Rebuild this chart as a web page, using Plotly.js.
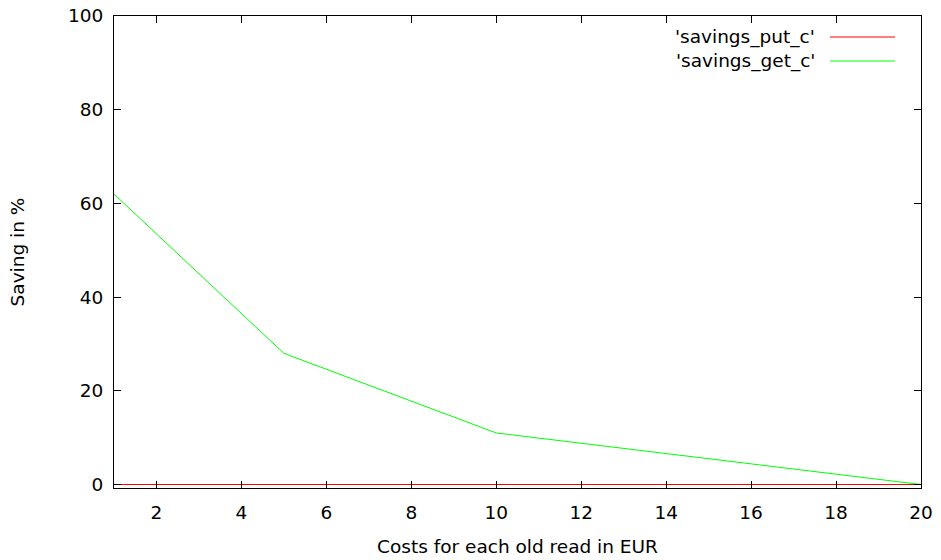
<!DOCTYPE html>
<html><head><meta charset="utf-8">
<script src="https://cdn.plot.ly/plotly-3.0.1.min.js"></script>
<style>html,body{margin:0;padding:0;background:#fff}</style>
</head><body><div id="chart" style="width:941px;height:560px"></div>
<script>
const costs = [1, 5, 10, 20];
const savingsPut = [0, 0, 0, 0];
const savingsGet = [62, 28, 11, 0];
const seriesNames = ["'savings_put_c'", "'savings_get_c'"];
const xTicks = [2, 4, 6, 8, 10, 12, 14, 16, 18, 20];
const yTicks = [0, 20, 40, 60, 80, 100];

const W = 941, H = 560, L = 114, R = 20, T = 16, B = 72;
const font = {family: 'DejaVu Sans', size: 18.5, color: '#000'};
const colors = ['#ff0000', '#00ff00'];

const traces = [
  {x: costs, y: savingsPut, mode: 'lines', line: {color: colors[0], width: 1}, name: seriesNames[0], showlegend: false},
  {x: costs, y: savingsGet, mode: 'lines', line: {color: colors[1], width: 1}, name: seriesNames[1], showlegend: false}
];

const axisCommon = {
  showgrid: false, zeroline: false, showline: true, linecolor: '#000', linewidth: 1,
  mirror: 'allticks', ticks: 'inside', ticklen: 7, tickcolor: '#000', tickwidth: 1,
  tickfont: font
};

const pw = W - L - R, ph = H - T - B;
const annotations = [];
const shapes = [];
seriesNames.forEach((n, i) => {
  const yp = 1 - (21 + 24 * i) / ph;
  annotations.push({xref: 'paper', yref: 'paper', x: (817 - L) / pw, y: yp, text: n, showarrow: false,
    xanchor: 'right', yanchor: 'middle', font: font});
  shapes.push({type: 'line', xref: 'paper', yref: 'paper', x0: (830 - L) / pw, x1: (895 - L) / pw, y0: yp, y1: yp,
    line: {color: colors[i], width: 1}});
});

const layout = {
  width: W, height: H,
  margin: {l: L, r: R, t: T, b: B},
  paper_bgcolor: '#fff', plot_bgcolor: '#fff',
  font: font,
  showlegend: false,
  xaxis: Object.assign({}, axisCommon, {range: [1, 20], tickvals: xTicks, ticktext: xTicks.map(String),
    ticklabelstandoff: 8,
    title: {text: 'Costs for each old read in EUR', font: font, standoff: 17}}),
  yaxis: Object.assign({}, axisCommon, {range: [-0.75, 100], tickvals: yTicks, ticktext: yTicks.map(String),
    ticklabelstandoff: 6,
    title: {text: 'Saving in %', font: font, standoff: 38}}),
  annotations: annotations,
  shapes: shapes
};

Plotly.newPlot('chart', traces, layout, {displayModeBar: false, staticPlot: true});
</script></body></html>
